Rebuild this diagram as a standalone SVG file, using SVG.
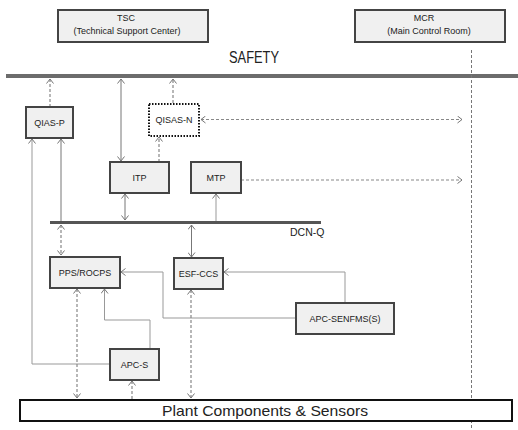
<svg xmlns="http://www.w3.org/2000/svg" width="518" height="430" viewBox="0 0 518 430">
<style>
  text { font-family: "Liberation Sans", Arial, sans-serif; fill: #222; }
  .box { fill: #f0f0f0; stroke: #444; stroke-width: 2; }
  .lbl { font-size: 9px; text-anchor: middle; }
  .c { fill: none; stroke: #999; stroke-width: 1; }
  .cd { fill: none; stroke: #777; stroke-width: 1; }
  .d { fill: none; stroke: #888; stroke-width: 1.2; stroke-dasharray: 3 2; }
</style>
<defs>
  <marker id="ah" markerWidth="6" markerHeight="8" refX="5" refY="4" orient="auto-start-reverse" markerUnits="userSpaceOnUse">
    <path d="M0.5,0.5 L5,4 L0.5,7.5" fill="none" stroke="#777" stroke-width="1"/>
  </marker>
</defs>
<rect width="518" height="430" fill="#fff"/>

<g id="tsc">
  <rect class="box" x="58" y="10" width="150" height="32"/>
  <text class="lbl" x="126" y="21">TSC</text>
  <text class="lbl" x="127" y="34">(Technical Support Center)</text>
</g>
<g id="mcr">
  <rect class="box" x="355" y="10" width="150" height="32"/>
  <text class="lbl" x="424" y="21">MCR</text>
  <text class="lbl" x="429" y="34">(Main Control Room)</text>
</g>
<g id="safety">
  <text x="254" y="63" font-size="16" text-anchor="middle" textLength="50" lengthAdjust="spacingAndGlyphs">SAFETY</text>
  <rect x="6" y="74" width="512" height="4" fill="#6c6c6c"/>
</g>
<g id="mcr-boundary">
  <line x1="471.5" y1="50" x2="471.5" y2="430" stroke="#777" stroke-width="1" stroke-dasharray="3 2"/>
</g>
<g id="dcn-q">
  <rect x="50" y="221" width="271" height="3" fill="#555"/>
  <text x="290" y="236" font-size="10.5">DCN-Q</text>
</g>

<g id="connectors">
  <path class="d" d="M50,107 V79" marker-end="url(#ah)"/>
  <path class="cd" d="M121,79 V161" marker-start="url(#ah)" marker-end="url(#ah)"/>
  <path class="d" d="M173,103 V79" marker-end="url(#ah)"/>
  <path class="d" d="M201,119.5 H462" marker-start="url(#ah)" marker-end="url(#ah)"/>
  <path class="d" d="M159,162 V137" marker-end="url(#ah)"/>
  <path class="d" d="M241,180 H462" marker-end="url(#ah)"/>
  <path class="cd" d="M125,194 V220" marker-start="url(#ah)" marker-end="url(#ah)"/>
  <path class="c" d="M216,221 V194" marker-end="url(#ah)"/>
  <path class="cd" d="M61,221 V139" marker-end="url(#ah)"/>
  <path class="d" d="M61,225 V255" marker-start="url(#ah)" marker-end="url(#ah)"/>
  <path class="cd" d="M191.5,225 V257" marker-start="url(#ah)" marker-end="url(#ah)"/>
  <path class="c" d="M296,318 H163 V272 H121" marker-end="url(#ah)"/>
  <path class="c" d="M345,303 V272 H224" marker-end="url(#ah)"/>
  <path class="c" d="M150,349 V320 H104.5 V289" marker-end="url(#ah)"/>
  <path class="c" d="M110,364 H32 V139" marker-end="url(#ah)"/>
  <path class="d" d="M77,289 V398" marker-start="url(#ah)" marker-end="url(#ah)"/>
  <path class="d" d="M132,399 V381" marker-end="url(#ah)"/>
  <path class="d" d="M191,290 V398" marker-start="url(#ah)" marker-end="url(#ah)"/>
</g>

<g id="qias-p">
  <rect class="box" x="26" y="107" width="47" height="31"/>
  <text class="lbl" x="49.5" y="126">QIAS-P</text>
</g>
<g id="qisas-n">
  <rect x="149" y="104" width="50" height="32" fill="#fff" stroke="#111" stroke-width="2" stroke-dasharray="1.5 1.5"/>
  <text class="lbl" x="174" y="123">QISAS-N</text>
</g>
<g id="itp">
  <rect class="box" x="110" y="162" width="59" height="31"/>
  <text class="lbl" x="139.5" y="181">ITP</text>
</g>
<g id="mtp">
  <rect class="box" x="191" y="162" width="50" height="31"/>
  <text class="lbl" x="216" y="181">MTP</text>
</g>
<g id="pps-rocps">
  <rect class="box" x="50" y="257" width="70" height="31"/>
  <text class="lbl" x="85" y="276">PPS/ROCPS</text>
</g>
<g id="esf-ccs">
  <rect class="box" x="174" y="258" width="49" height="31"/>
  <text class="lbl" x="198.5" y="277">ESF-CCS</text>
</g>
<g id="apc-senfms">
  <rect class="box" x="296" y="303" width="98" height="31"/>
  <text class="lbl" x="345" y="322">APC-SENFMS(S)</text>
</g>
<g id="apc-s">
  <rect class="box" x="110" y="349" width="49" height="31"/>
  <text class="lbl" x="134.5" y="368">APC-S</text>
</g>
<g id="plant">
  <rect x="20" y="400" width="492" height="21" fill="#fff" stroke="#111" stroke-width="2"/>
  <text x="265" y="416" font-size="15" text-anchor="middle" textLength="206" lengthAdjust="spacingAndGlyphs">Plant Components &amp; Sensors</text>
</g>
</svg>
